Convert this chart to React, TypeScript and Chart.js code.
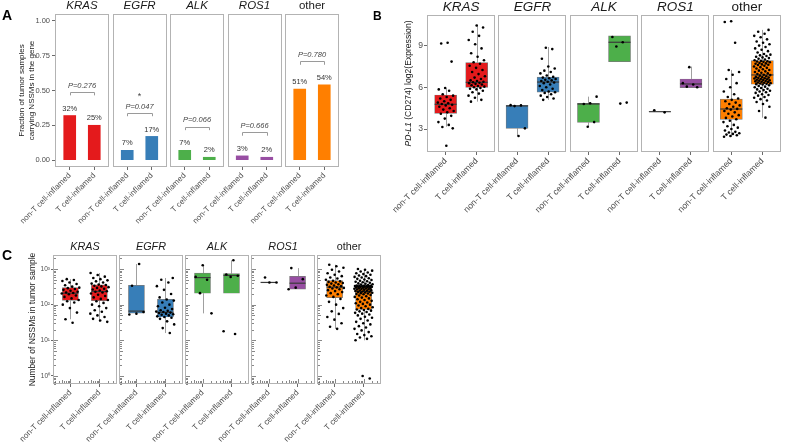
import React, { useEffect, useRef } from 'react';
import { Chart, registerables } from 'chart.js';

Chart.register(...registerables);

const FONT = "'Liberation Sans', Arial, Helvetica, sans-serif";

const FACETS = ['KRAS', 'EGFR', 'ALK', 'ROS1', 'other'];
const FACET_ITALIC = [true, true, true, true, false];
const GROUPS = ['non-T cell-inflamed', 'T cell-inflamed'];
const FACET_COLORS = ['#E41A1C', '#377EB8', '#4DAF4A', '#984EA3', '#FF7F00'];

// ---------------- Panel A : fraction of samples with NSSMs ----------------
const A_NON_T = [0.32, 0.07, 0.07, 0.03, 0.51];
const A_T = [0.25, 0.17, 0.02, 0.02, 0.54];
const A_PVALUES = ['P=0.276', 'P=0.047', 'P=0.066', 'P=0.666', 'P=0.780'];
const A_SIGNIF = ['', '*', '', '', ''];
const A_Y_TICKS = [0, 0.25, 0.5, 0.75, 1];
const A_Y_TITLE = ['Fraction of tumor samples', 'carrying NSSMs in the gene'];

// ---------------- Panel B : PD-L1 expression ----------------
const B_Y_TICKS = [3, 6, 9];
const B_Y_TITLE_ITALIC = 'PD-L1';
const B_Y_TITLE_REST = ' (CD274) log2(Expression)';
// box stats: [lower whisker, q1, median, q3, upper whisker]
const B_STATS_KRAS = [[3.17, 4.13, 4.78, 5.45, 5.93], [4.97, 6.0, 6.36, 7.78, 10.5]];
const B_STATS_EGFR = [[2.5, 3.05, 4.66, 4.7, 4.72], [5.1, 5.66, 6.38, 6.74, 8.9]];
const B_STATS_ALK = [[3.17, 3.48, 4.8, 4.85, 5.33], [7.85, 7.85, 9.24, 9.7, 9.7]];
const B_STATS_ROS1 = [[4.25, 4.25, 4.25, 4.25, 4.25], [5.98, 5.98, 6.24, 6.6, 7.49]];
const B_STATS_OTHER = [[2.45, 3.7, 4.44, 5.16, 7.25], [3.82, 6.22, 6.89, 7.92, 10.13]];

const B_KRAS_NON_T = [9.2, 9.15, 7.85, 5.95, 5.85, 5.75, 5.5, 5.4, 5.3, 5.2, 5.1, 5.0, 4.9, 4.85, 4.8, 4.75, 4.7, 4.6, 4.5, 4.4, 4.3, 4.2, 4.1, 3.95, 3.75, 3.5, 3.3, 3.15, 3.05, 1.8];
const B_KRAS_T = [4.97, 5.1, 5.25, 5.4, 5.55, 5.65, 5.75, 5.85, 5.9, 5.95, 6.0, 6.05, 6.1, 6.15, 6.2, 6.25, 6.3, 6.33, 6.36, 6.4, 6.45, 6.5, 6.6, 6.7, 6.8, 6.95, 7.1, 7.25, 7.4, 7.55, 7.7, 7.8, 7.95, 8.2, 8.45, 8.8, 9.1, 9.4, 9.7, 10.0, 10.3, 10.45];
const B_EGFR_NON_T = [4.72, 4.7, 4.65, 3.05, 2.5];
const B_EGFR_T = [5.1, 5.2, 5.3, 5.4, 5.5, 5.6, 5.65, 5.7, 5.8, 5.9, 6.0, 6.1, 6.2, 6.3, 6.35, 6.4, 6.45, 6.5, 6.55, 6.6, 6.65, 6.7, 6.75, 6.85, 7.0, 7.1, 7.2, 7.35, 7.5, 8.05, 8.75, 8.85];
const B_ALK_NON_T = [5.33, 4.85, 4.8, 3.5, 3.17];
const B_ALK_T = [9.62, 9.24, 8.93, 4.9, 4.83];
const B_ROS1_NON_T = [4.35, 4.2];
const B_ROS1_T = [7.45, 6.3, 6.2, 6.05, 6.0];
const B_OTHER_NON_T = [10.75, 10.7, 9.2, 7.25, 7.1, 6.9, 6.6, 6.3, 6.0, 5.7, 5.5, 5.3, 5.2, 5.1, 5.0, 4.9, 4.8, 4.7, 4.6, 4.5, 4.45, 4.4, 4.3, 4.2, 4.1, 4.0, 3.9, 3.8, 3.7, 3.6, 3.5, 3.3, 3.2, 3.1, 3.0, 2.9, 2.8, 2.75, 2.7, 2.65, 2.6, 2.55, 2.5, 2.45];
const B_OTHER_T = [3.82, 4.3, 4.6, 4.8, 4.95, 5.05, 5.15, 5.25, 5.3, 5.4, 5.45, 5.5, 5.6, 5.65, 5.7, 5.75, 5.8, 5.85, 5.9, 5.95, 6.0, 6.05, 6.1, 6.15, 6.2,
  6.23, 6.25, 6.28, 6.3, 6.33, 6.35, 6.38, 6.4, 6.43, 6.45, 6.48, 6.5, 6.53, 6.55, 6.58, 6.6, 6.63, 6.65, 6.68, 6.7, 6.73, 6.75, 6.8, 6.84, 6.88,
  6.9, 6.95, 7.0, 7.05, 7.1, 7.15, 7.2, 7.25, 7.3, 7.35, 7.4, 7.45, 7.5, 7.55, 7.6, 7.62, 7.65, 7.7, 7.72, 7.75, 7.8, 7.83, 7.86, 7.88, 7.9,
  7.95, 8.0, 8.05, 8.1, 8.15, 8.2, 8.25, 8.3, 8.35, 8.4, 8.5, 8.6, 8.7, 8.8, 8.9, 9.0, 9.1, 9.2, 9.3, 9.45, 9.6, 9.7, 9.85, 10.0, 10.13];

// ---------------- Panel C : number of NSSMs ----------------
const C_Y_TICKS = [1, 10, 100, 1000];
const C_Y_TITLE = 'Number of NSSMs in tumor sample';
const C_STATS_KRAS = [[39, 131, 209, 302, 520], [33, 129, 234, 360, 770]];
const C_STATS_EGFR = [[53, 58, 66, 347, 1380], [16, 45, 61, 141, 560]];
const C_STATS_ALK = [[57, 209, 575, 770, 1270], [209, 209, 660, 740, 1760]];
const C_STATS_ROS1 = [[420, 420, 420, 420, 420], [273, 273, 400, 620, 1060]];
const C_STATS_OTHER = [[21, 158, 310, 470, 1320], [10, 74, 233, 340, 1000]];

const C_KRAS_NON_T = [31, 39, 60, 80, 100, 115, 125, 135, 150, 165, 180, 195, 205, 212, 220, 230, 245, 260, 275, 290, 300, 320, 350, 380, 420, 460, 490, 520];
const C_KRAS_T = [33, 36, 40, 45, 50, 56, 63, 70, 80, 90, 100, 112, 125, 135, 145, 160, 175, 190, 205, 220, 230, 238, 250, 265, 280, 295, 310, 325, 340, 355, 365, 390, 420, 450, 480, 520, 560, 610, 680, 770];
const C_EGFR_NON_T = [1380, 340, 62, 56, 53];
const C_EGFR_T = [16, 22, 28, 34, 40, 43, 45, 47, 50, 52, 54, 56, 58, 60, 62, 64, 67, 70, 75, 82, 90, 100, 115, 130, 140, 160, 200, 260, 330, 420, 500, 560];
const C_ALK_NON_T = [1270, 600, 500, 210, 57];
const C_ALK_T = [1760, 700, 650, 600, 18, 15];
const C_ROS1_NON_T = [580, 420, 420];
const C_ROS1_T = [1060, 520, 300, 270];
const C_OTHER_NON_T = [21, 24, 30, 38, 45, 55, 65, 80, 100, 120, 145, 165, 180, 195, 210, 225, 240, 255, 270, 285, 295, 305, 315, 330, 345, 360, 375, 390, 405, 420, 435, 450, 465, 500, 540, 580, 630, 690, 760, 850, 950, 1080, 1200, 1320];
const C_OTHER_T = [0.85, 1, 10, 11, 12, 13, 14, 15, 17, 19, 21, 23, 25, 28, 30, 33, 36, 40, 43, 46, 50, 53, 56, 59, 62, 65, 68, 71, 73,
  76, 80, 85, 90, 95, 100, 105, 110, 115, 120, 128, 135, 142, 150, 158, 165, 172, 180, 188, 195, 200, 205, 210, 215, 220, 225, 230,
  235, 240, 245, 250, 255, 260, 265, 270, 275, 280, 285, 290, 295, 300, 305, 310, 313, 316, 320, 323, 326, 329, 332, 334, 336, 338, 339,
  345, 355, 365, 375, 385, 395, 410, 425, 440, 455, 470, 490, 510, 530, 550, 575, 600, 630, 660, 690, 720, 760, 800, 850, 900, 950, 1000];

const SUPERSCRIPT: Record<string, string> = { '-': '⁻', '0': '⁰', '1': '¹', '2': '²', '3': '³', '4': '⁴' };

// ---------------- helpers ----------------
const FACET_SPAN = 2.2; // discrete range 0.4..2.6
const CAT_OFFSETS = [0.6, 1.6];

function facetGeometry(gap: number) {
  const step = FACET_SPAN + gap;
  const max = step * 4 + FACET_SPAN;
  const ticks: number[] = [];
  for (let f = 0; f < 5; f++) for (let g = 0; g < 2; g++) ticks.push(f * step + CAT_OFFSETS[g]);
  return { step, max, ticks };
}

function jitter(i: number, half: number) {
  const u = ((i + 1) * 0.6180339887) % 1;
  return (u - 0.5) * 2 * half;
}

function xAxis(geo: any, height: number, fontSize: number) {
  return {
    type: 'linear',
    min: 0,
    max: geo.max,
    bounds: 'data',
    offset: false,
    afterBuildTicks: (s: any) => { s.ticks = geo.ticks.map((v: number) => ({ value: v })); },
    afterFit: (s: any) => { s.height = height; },
    ticks: {
      autoSkip: false, minRotation: 45, maxRotation: 45, padding: 1,
      color: '#4D4D4D', font: { family: FONT, size: fontSize },
      callback: (_v: any, i: number) => GROUPS[i % 2],
    },
    grid: { display: true, drawOnChartArea: false, drawTicks: true, tickLength: 3, color: '#444', lineWidth: 0.8, offset: false },
    border: { display: false },
  };
}

function yAxisBase(width: number, fontSize: number, tickLen: number, pad: number) {
  return {
    bounds: 'data',
    afterFit: (s: any) => { s.width = width; },
    ticks: { padding: pad, color: '#4D4D4D', font: { family: FONT, size: fontSize } },
    grid: { display: true, drawOnChartArea: false, drawTicks: true, tickLength: tickLen, color: '#444', lineWidth: 0.8 },
    border: { display: false },
  };
}

function facetPlugin(geo: any, stripSize: number, stripOffset: number) {
  return {
    id: 'facets',
    afterDatasetsDraw(chart: any) {
      const { ctx, chartArea, scales } = chart;
      const xs = scales.x;
      ctx.save();
      for (let f = 0; f < 5; f++) {
        const x0 = xs.getPixelForValue(f * geo.step);
        const x1 = xs.getPixelForValue(f * geo.step + FACET_SPAN);
        ctx.strokeStyle = '#B3B3B3';
        ctx.lineWidth = 1;
        ctx.strokeRect(Math.round(x0) + 0.5, Math.round(chartArea.top) + 0.5, Math.round(x1 - x0) - 1, Math.round(chartArea.bottom - chartArea.top) - 1);
        ctx.font = `${FACET_ITALIC[f] ? 'italic ' : ''}${stripSize}px ${FONT}`;
        ctx.fillStyle = '#1A1A1A';
        ctx.textAlign = 'center';
        ctx.textBaseline = 'middle';
        ctx.fillText(FACETS[f], (x0 + x1) / 2, chartArea.top - stripOffset);
      }
      ctx.restore();
    },
  };
}

function boxPlugin(centers: number[], stats: number[][], boxWidth: number) {
  return {
    id: 'boxes',
    beforeDatasetsDraw(chart: any) {
      const { ctx, scales: { x, y } } = chart;
      ctx.save();
      ctx.strokeStyle = '#A0A0A0';
      ctx.lineWidth = 1;
      centers.forEach((c, i) => {
        const s = stats[i];
        const px = Math.round(x.getPixelForValue(c)) + 0.5;
        ctx.beginPath();
        ctx.moveTo(px, y.getPixelForValue(s[3]));
        ctx.lineTo(px, y.getPixelForValue(s[4]));
        ctx.moveTo(px, y.getPixelForValue(s[1]));
        ctx.lineTo(px, y.getPixelForValue(s[0]));
        ctx.stroke();
      });
      ctx.restore();
    },
    afterDatasetDraw(chart: any, args: any) {
      if (args.index !== 0) return;
      const { ctx, scales: { x, y } } = chart;
      ctx.save();
      ctx.strokeStyle = '#3A3A3A';
      ctx.lineWidth = 1.2;
      centers.forEach((c, i) => {
        const px = x.getPixelForValue(c);
        const py = y.getPixelForValue(stats[i][2]);
        ctx.beginPath();
        ctx.moveTo(px - boxWidth / 2, py);
        ctx.lineTo(px + boxWidth / 2, py);
        ctx.stroke();
      });
      ctx.restore();
    },
  };
}

function buildBoxData(geo: any, stats: number[][][], points: number[][][], jitterHalf: number) {
  const boxData: any[] = [];
  const boxColors: string[] = [];
  const centers: number[] = [];
  const flatStats: number[][] = [];
  const pts: any[] = [];
  let k = 0;
  for (let f = 0; f < 5; f++) {
    for (let g = 0; g < 2; g++) {
      const cx = f * geo.step + CAT_OFFSETS[g];
      const s = stats[f][g];
      boxData.push({ x: cx, y: [s[1], s[3]] });
      boxColors.push(FACET_COLORS[f]);
      centers.push(cx);
      flatStats.push(s);
      points[f][g].forEach((v) => { pts.push({ x: cx + jitter(k++, jitterHalf), y: v }); });
    }
  }
  return { boxData, boxColors, centers, flatStats, pts };
}

const COMMON = {
  responsive: false,
  animation: false,
  devicePixelRatio: 1,
  events: [],
};

// ---------------- Panel A config ----------------
function configA() {
  const geo = facetGeometry(0.143);
  const bars: any[] = [];
  const colors: string[] = [];
  for (let f = 0; f < 5; f++) {
    bars.push({ x: f * geo.step + CAT_OFFSETS[0], y: A_NON_T[f] });
    bars.push({ x: f * geo.step + CAT_OFFSETS[1], y: A_T[f] });
    colors.push(FACET_COLORS[f], FACET_COLORS[f]);
  }
  const annot = {
    id: 'annotA',
    afterDatasetsDraw(chart: any) {
      const { ctx, scales: { x, y } } = chart;
      ctx.save();
      ctx.textAlign = 'center';
      ctx.textBaseline = 'middle';
      for (let f = 0; f < 5; f++) {
        const vals = [A_NON_T[f], A_T[f]];
        const xs = CAT_OFFSETS.map((o) => x.getPixelForValue(f * geo.step + o));
        ctx.fillStyle = '#333';
        ctx.font = `7.5px ${FONT}`;
        vals.forEach((v, g) => ctx.fillText(Math.round(v * 100) + '%', xs[g], y.getPixelForValue(v + 0.05)));
        const top = Math.max(...vals) + 0.17;
        const yt = Math.round(y.getPixelForValue(top)) + 0.5;
        const yl = y.getPixelForValue(top - 0.025);
        ctx.strokeStyle = '#9A9A9A';
        ctx.lineWidth = 1;
        ctx.beginPath();
        ctx.moveTo(Math.round(xs[0]) + 0.5, yl);
        ctx.lineTo(Math.round(xs[0]) + 0.5, yt);
        ctx.lineTo(Math.round(xs[1]) + 0.5, yt);
        ctx.lineTo(Math.round(xs[1]) + 0.5, yl);
        ctx.stroke();
        ctx.fillStyle = '#444';
        ctx.font = `italic 7.5px ${FONT}`;
        ctx.fillText(A_PVALUES[f], (xs[0] + xs[1]) / 2, y.getPixelForValue(top + 0.045));
        if (A_SIGNIF[f]) {
          ctx.font = `9px ${FONT}`;
          ctx.fillText(A_SIGNIF[f], (xs[0] + xs[1]) / 2, y.getPixelForValue(top + 0.115));
        }
      }
      ctx.restore();
    },
  };
  return {
    type: 'bar',
    data: {
      datasets: [{ data: bars, backgroundColor: colors, barThickness: 12, borderWidth: 0 }],
    },
    options: {
      ...COMMON,
      layout: { padding: { top: 14, right: 6, left: 0, bottom: 0 } },
      plugins: { legend: { display: false }, tooltip: { enabled: false } },
      scales: {
        x: xAxis(geo, 68, 8),
        y: {
          ...yAxisBase(55, 7.5, 3, 2),
          type: 'linear',
          min: -0.05,
          max: 1.05,
          afterBuildTicks: (s: any) => { s.ticks = A_Y_TICKS.map((v) => ({ value: v })); },
          ticks: { padding: 2, color: '#4D4D4D', font: { family: FONT, size: 7.5 }, callback: (v: any) => Number(v).toFixed(2) },
          title: {
            display: true, text: A_Y_TITLE, color: '#1A1A1A',
            font: { family: FONT, size: 8, lineHeight: 1.25 }, padding: { top: 17, bottom: 0 },
          },
        },
      },
    },
    plugins: [facetPlugin(geo, 11.5, 8), annot],
  };
}

// ---------------- Panel B config ----------------
function configB() {
  const geo = facetGeometry(0.1);
  const stats = [B_STATS_KRAS, B_STATS_EGFR, B_STATS_ALK, B_STATS_ROS1, B_STATS_OTHER];
  const points = [
    [B_KRAS_NON_T, B_KRAS_T], [B_EGFR_NON_T, B_EGFR_T], [B_ALK_NON_T, B_ALK_T],
    [B_ROS1_NON_T, B_ROS1_T], [B_OTHER_NON_T, B_OTHER_T],
  ];
  const d = buildBoxData(geo, stats, points, 0.27);
  const boxW = 22;
  const title = {
    id: 'titleB',
    afterDraw(chart: any) {
      const { ctx, chartArea } = chart;
      const cy = (chartArea.top + chartArea.bottom) / 2;
      ctx.save();
      ctx.translate(33.5, cy);
      ctx.rotate(-Math.PI / 2);
      const f1 = `italic 8.6px ${FONT}`;
      const f2 = `8.6px ${FONT}`;
      ctx.font = f1;
      const w1 = ctx.measureText(B_Y_TITLE_ITALIC).width;
      ctx.font = f2;
      const w2 = ctx.measureText(B_Y_TITLE_REST).width;
      const x0 = -(w1 + w2) / 2;
      ctx.fillStyle = '#1A1A1A';
      ctx.textAlign = 'left';
      ctx.textBaseline = 'middle';
      ctx.font = f1;
      ctx.fillText(B_Y_TITLE_ITALIC, x0, 0);
      ctx.font = f2;
      ctx.fillText(B_Y_TITLE_REST, x0 + w1, 0);
      ctx.restore();
    },
  };
  return {
    type: 'bar',
    data: {
      datasets: [
        { type: 'bar', data: d.boxData, backgroundColor: d.boxColors, borderColor: '#7A7A7A', borderWidth: 0.7, borderSkipped: false, barThickness: boxW, order: 1 },
        { type: 'scatter', data: d.pts, pointRadius: 1.3, pointBackgroundColor: '#000', pointBorderWidth: 0, order: 0 },
      ],
    },
    options: {
      ...COMMON,
      layout: { padding: { top: 15, right: 4, left: 0, bottom: 0 } },
      plugins: { legend: { display: false }, tooltip: { enabled: false } },
      scales: {
        x: xAxis(geo, 83, 8.6),
        y: {
          ...yAxisBase(52, 8.6, 3, 1),
          type: 'linear',
          min: 1.35,
          max: 11.2,
          afterBuildTicks: (s: any) => { s.ticks = B_Y_TICKS.map((v) => ({ value: v })); },
          ticks: { padding: 1, color: '#4D4D4D', font: { family: FONT, size: 8.6 }, callback: (v: any) => String(v) },
        },
      },
    },
    plugins: [boxPlugin(d.centers, d.flatStats, boxW), facetPlugin(geo, 13.5, 8), title],
  };
}

// ---------------- Panel C config ----------------
function configC() {
  const geo = facetGeometry(0.078);
  const stats = [C_STATS_KRAS, C_STATS_EGFR, C_STATS_ALK, C_STATS_ROS1, C_STATS_OTHER];
  const points = [
    [C_KRAS_NON_T, C_KRAS_T], [C_EGFR_NON_T, C_EGFR_T], [C_ALK_NON_T, C_ALK_T],
    [C_ROS1_NON_T, C_ROS1_T], [C_OTHER_NON_T, C_OTHER_T],
  ];
  const d = buildBoxData(geo, stats, points, 0.32);
  const boxW = 16;
  const logTicks = {
    id: 'logTicks',
    afterDatasetsDraw(chart: any) {
      const { ctx, chartArea, scales: { x, y } } = chart;
      ctx.save();
      ctx.strokeStyle = '#555';
      ctx.lineWidth = 0.7;
      const yv: number[][] = [];
      for (let k = -1; k <= 3; k++) {
        for (let m = 1; m <= 9; m++) {
          const v = m * Math.pow(10, k);
          if (v >= y.min && v <= y.max) yv.push([v, m]);
        }
      }
      const xv: number[][] = [];
      for (let k = 0; k <= 2; k++) {
        for (let m = 1; m <= 9; m++) {
          const lv = Math.log10(m * Math.pow(10, k));
          if (lv >= 0.4 && lv <= 2.6) xv.push([lv, m]);
        }
      }
      const len = (m: number) => (m === 1 ? 4 : m === 5 ? 3 : 2);
      for (let f = 0; f < 5; f++) {
        const x0 = Math.round(x.getPixelForValue(f * geo.step)) + 1;
        ctx.beginPath();
        yv.forEach(([v, m]) => {
          const py = Math.round(y.getPixelForValue(v)) + 0.5;
          ctx.moveTo(x0, py);
          ctx.lineTo(x0 + len(m), py);
        });
        const yb = Math.round(chartArea.bottom) - 1;
        xv.forEach(([lv, m]) => {
          const px = Math.round(x.getPixelForValue(f * geo.step + lv - 0.4)) + 0.5;
          ctx.moveTo(px, yb);
          ctx.lineTo(px, yb - len(m));
        });
        ctx.stroke();
      }
      ctx.restore();
    },
  };
  return {
    type: 'bar',
    data: {
      datasets: [
        { type: 'bar', data: d.boxData, backgroundColor: d.boxColors, borderColor: '#7A7A7A', borderWidth: 0.7, borderSkipped: false, barThickness: boxW, order: 1 },
        { type: 'scatter', data: d.pts, pointRadius: 1.3, pointBackgroundColor: '#000', pointBorderWidth: 0, order: 0 },
      ],
    },
    options: {
      ...COMMON,
      layout: { padding: { top: 23, right: 11, left: 0, bottom: 0 } },
      plugins: { legend: { display: false }, tooltip: { enabled: false } },
      scales: {
        x: xAxis(geo, 59, 8.2),
        y: {
          ...yAxisBase(53, 6.5, 2, 1),
          type: 'logarithmic',
          min: 0.596,
          max: 2470,
          afterBuildTicks: (s: any) => { s.ticks = C_Y_TICKS.map((v) => ({ value: v })); },
          ticks: {
            padding: 1, color: '#4D4D4D', font: { family: FONT, size: 6.5 },
            callback: (v: any) => '10' + String(Math.round(Math.log10(Number(v)))).split('').map((c) => SUPERSCRIPT[c] || c).join(''),
          },
          title: {
            display: true, text: C_Y_TITLE, color: '#1A1A1A',
            font: { family: FONT, size: 8.5, lineHeight: 1.2 }, padding: { top: 28, bottom: 0 },
          },
        },
      },
    },
    plugins: [boxPlugin(d.centers, d.flatStats, boxW), facetPlugin(geo, 10.8, 8), logTicks],
  };
}

function ChartCanvas(props: { make: () => any; left: number; top: number; width: number; height: number }) {
  const ref = useRef<HTMLCanvasElement>(null);
  useEffect(() => {
    const chart = new Chart(ref.current as HTMLCanvasElement, props.make());
    return () => chart.destroy();
  }, []);
  return (
    <canvas
      ref={ref}
      width={props.width}
      height={props.height}
      style={{ position: 'absolute', left: props.left, top: props.top, width: props.width, height: props.height }}
    />
  );
}

const letterStyle = (left: number, top: number, size: number): React.CSSProperties => ({
  position: 'absolute', left, top, fontFamily: FONT, fontWeight: 'bold', fontSize: size, lineHeight: 1, color: '#000',
});

export default function App() {
  return (
    <div style={{ position: 'fixed', left: 0, top: 0, width: 785, height: 443, background: '#fff', overflow: 'hidden' }}>
      <ChartCanvas make={configA} left={0} top={0} width={345} height={235} />
      <ChartCanvas make={configB} left={375} top={0} width={410} height={235} />
      <ChartCanvas make={configC} left={0} top={232} width={392} height={211} />
      <div style={letterStyle(2, 8, 14)}>A</div>
      <div style={letterStyle(373, 10, 12)}>B</div>
      <div style={letterStyle(2, 248, 14)}>C</div>
    </div>
  );
}
